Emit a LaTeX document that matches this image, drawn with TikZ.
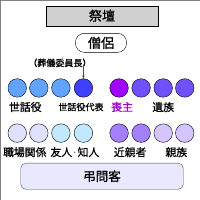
\documentclass[tikz,border=0pt]{standalone}
\usepackage{fontspec}
\newfontfamily\jpfont[FakeBold=1]{Noto Sans CJK JP}
\usetikzlibrary{positioning, arrows.meta, shapes}

\definecolor{altargray}{RGB}{208,208,208}
\definecolor{helperblue}{RGB}{96,164,255}
\definecolor{headblue}{RGB}{64,64,255}
\definecolor{mournerpurple}{RGB}{160,0,255}
\definecolor{familyviolet}{RGB}{112,80,255}
\definecolor{worklavender}{RGB}{224,224,255}
\definecolor{friendblue}{RGB}{192,232,255}
\definecolor{closeviolet}{RGB}{164,128,255}
\definecolor{kinviolet}{RGB}{212,196,255}
\definecolor{guestfill}{RGB}{232,232,255}
\definecolor{mournertext}{RGB}{160,0,200}

\begin{document}
\begin{tikzpicture}[
    x=1pt, y=-1pt,
    altar/.style={rectangle, draw=black, fill=altargray,
                  minimum width=112pt, minimum height=20pt,
                  font=\jpfont\fontsize{13}{13}\selectfont},
    priest/.style={rectangle, rounded corners=9pt, draw=black,
                   minimum width=51pt, minimum height=19pt,
                   font=\jpfont\fontsize{13}{13}\selectfont},
    seat/.style={circle, draw=black, minimum size=18.5pt, inner sep=0pt},
    label/.style={font=\jpfont\fontsize{10.8}{12}\selectfont, inner sep=0pt},
    small/.style={font=\jpfont\fontsize{9}{9}\selectfont, inner sep=0pt},
    guests/.style={rectangle, rounded corners=5pt, draw=black!70, fill=guestfill,
                   minimum width=162pt, minimum height=26pt,
                   font=\jpfont\fontsize{12.5}{13}\selectfont},
    arrow/.style={-{Stealth[length=3pt, width=2.5pt]}, draw=black!70, thin}
  ]
    % Frame
    \draw[black!50] (0.5,0.5) rectangle (199.5,199.5);

    % Altar and priest
    \node[altar] (altar) at (102, 16) {祭壇};
    \node[priest] (priest) at (101, 43) {僧侶};

    % Chairman note
    \node[small] (chair) at (60, 63) {（葬儀委員長）};

    % Front row
    \node[seat, fill=helperblue] (s1) at (17.5, 88) {};
    \node[seat, fill=helperblue] (s2) at (39, 88) {};
    \node[seat, fill=helperblue] (s3) at (61, 88) {};
    \node[seat, fill=headblue] (s4) at (83.5, 88) {};
    \node[seat, fill=mournerpurple] (s5) at (119, 88) {};
    \node[seat, fill=familyviolet] (s6) at (141, 88) {};
    \node[seat, fill=familyviolet] (s7) at (163, 88) {};
    \node[seat, fill=familyviolet] (s8) at (184.5, 88) {};

    \node[label] (helpers) at (25.5, 107) {世話役};
    \node[small] (head) at (81, 107) {世話役代表};
    \node[label, text=mournertext] (mourner) at (122, 107) {喪主};
    \node[label] (family) at (163, 107) {遺族};

    % Second row
    \node[seat, fill=worklavender] (t1) at (17.5, 133) {};
    \node[seat, fill=worklavender] (t2) at (39, 133) {};
    \node[seat, fill=friendblue] (t3) at (61, 133) {};
    \node[seat, fill=friendblue] (t4) at (83.5, 133) {};
    \node[seat, fill=closeviolet] (t5) at (119, 133) {};
    \node[seat, fill=closeviolet] (t6) at (141, 133) {};
    \node[seat, fill=kinviolet] (t7) at (163, 133) {};
    \node[seat, fill=kinviolet] (t8) at (184.5, 133) {};

    \node[label] (work) at (25, 152) {職場関係};
    \node[label] (friends) at (75, 152) {友人{\normalfont\kern-1.5pt·\kern-1.5pt}知人};
    \node[label] (close) at (130, 152) {近親者};
    \node[label] (kin) at (176, 152) {親族};

    % Guests
    \node[guests] (guests) at (102, 176) {弔問客};

    % Arrows
    \draw[arrow] (chair.south -| s4.north) ++(0,-1) -- (s4.north);
  \end{tikzpicture}
\end{document}
